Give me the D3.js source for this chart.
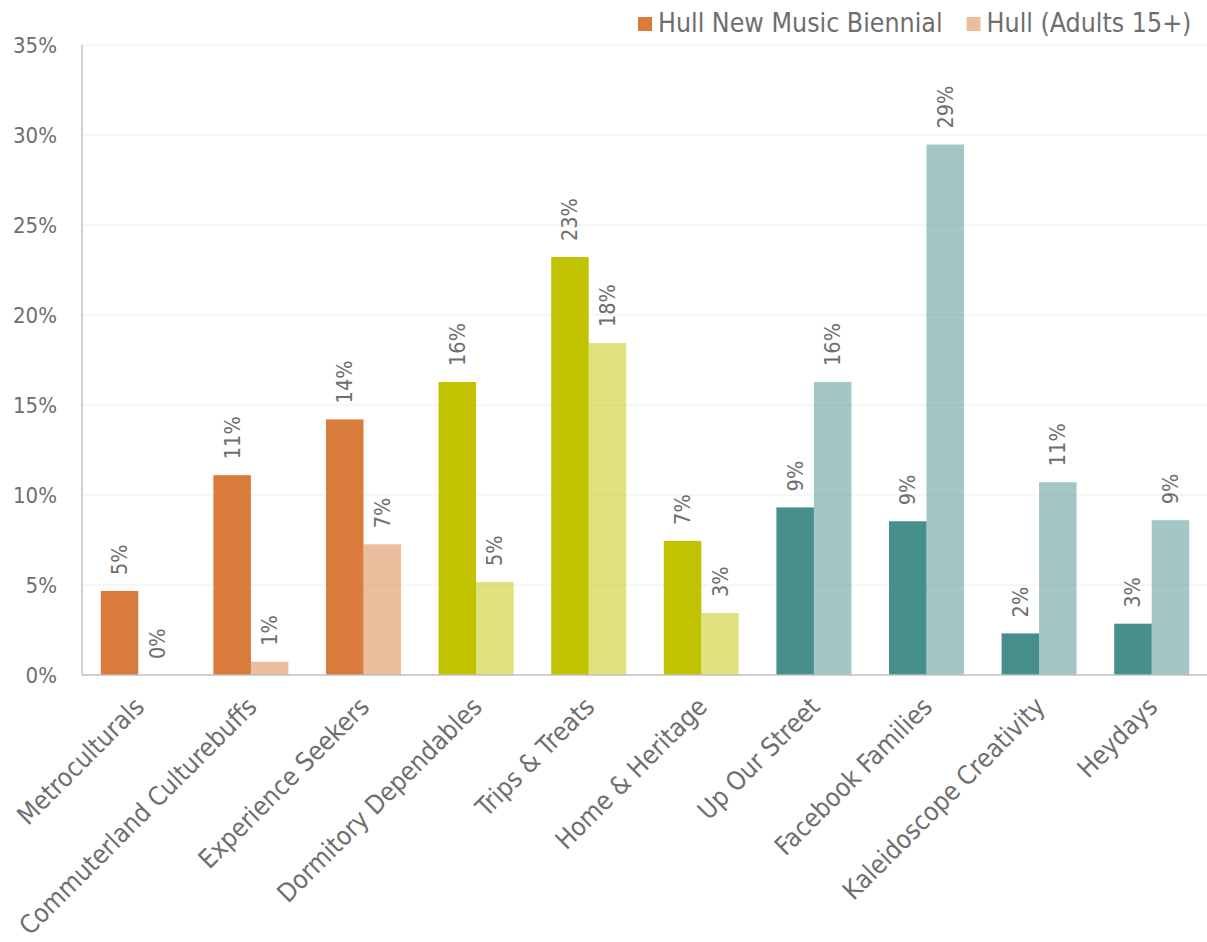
<!DOCTYPE html>
<html>
<head>
<meta charset="utf-8">
<script src="https://cdn.jsdelivr.net/npm/d3@7"></script>
<style>
  html, body { margin: 0; padding: 0; background: #ffffff; }
  svg { display: block; }
  text { font-family: "DejaVu Sans Condensed", "DejaVu Sans", sans-serif; fill: #6E6E6E; }
</style>
</head>
<body>
<script>
// Segment names along the x axis
const categories = [
  "Metroculturals", "Commuterland Culturebuffs", "Experience Seekers",
  "Dormitory Dependables", "Trips & Treats", "Home & Heritage",
  "Up Our Street", "Facebook Families", "Kaleidoscope Creativity", "Heydays"
];
// Share of each population (%) per segment
const biennial = [4.67, 11.1, 14.2, 16.28, 23.22, 7.45, 9.31, 8.54, 2.31, 2.85];
const hullAdults = [0, 0.74, 7.26, 5.17, 18.44, 3.44, 16.28, 29.47, 10.71, 8.6];
const seriesNames = ["Hull New Music Biennial", "Hull (Adults 15+)"];
// Segment family colour (high / medium / low engagement)
const familyColors = ["#D97B3A", "#D97B3A", "#D97B3A", "#C1C300", "#C1C300", "#C1C300",
                      "#468F8A", "#468F8A", "#468F8A", "#468F8A"];
const yTicks = [0, 5, 10, 15, 20, 25, 30, 35];

const W = 1207, H = 942;
const plot = { left: 82, right: 1208, top: 45, bottom: 675 };

const svg = d3.select("body").append("svg").attr("width", W).attr("height", H);

const x0 = d3.scaleBand().domain(categories).range([plot.left, plot.right])
  .paddingInner(0.334).paddingOuter(0.167);
const x1 = d3.scaleBand().domain([0, 1]).range([0, x0.bandwidth()]);
const y = d3.scaleLinear().domain([0, 35]).range([plot.bottom, plot.top]);

// Horizontal gridlines
svg.append("g").selectAll("line").data(yTicks.filter(d => d > 0)).join("line")
  .attr("x1", plot.left).attr("x2", W)
  .attr("y1", d => y(d)).attr("y2", d => y(d))
  .attr("stroke", "#EEEEEE").attr("stroke-width", 1);

// Y axis labels
const yAxis = svg.append("g").attr("transform", `translate(${plot.left},0)`)
  .call(d3.axisLeft(y).tickValues(yTicks).tickFormat(d => d + "%").tickSize(0).tickPadding(25));
yAxis.select(".domain").remove();
yAxis.selectAll("text").attr("font-size", 22).attr("fill", "#6E6E6E")
  .style("font-family", '"DejaVu Sans Condensed", "DejaVu Sans", sans-serif');

// Bars
const rows = categories.map((c, i) => ({ cat: c, color: familyColors[i], vals: [biennial[i], hullAdults[i]] }));
const groups = svg.append("g").selectAll("g").data(rows).join("g")
  .attr("transform", d => `translate(${x0(d.cat)},0)`);

groups.selectAll("rect").data(d => d.vals.map((v, k) => ({ v, k, color: d.color }))).join("rect")
  .attr("x", d => x1(d.k))
  .attr("width", x1.bandwidth())
  .attr("y", d => y(d.v))
  .attr("height", d => y(0) - y(d.v))
  .attr("fill", d => d.color)
  .attr("fill-opacity", d => d.k === 0 ? 1 : 0.5);

// Value labels, rotated above each bar
groups.selectAll("text.val").data(d => d.vals.map((v, k) => ({ v, k }))).join("text")
  .attr("class", "val")
  .attr("transform", d => `translate(${x1(d.k) + x1.bandwidth() / 2},${y(d.v) - 16}) rotate(-90)`)
  .attr("dy", "0.35em")
  .attr("text-anchor", "start")
  .attr("font-size", 21.5)
  .text(d => Math.round(d.v) + "%");

// Axis lines
svg.append("line").attr("x1", plot.left).attr("x2", plot.left).attr("y1", plot.top).attr("y2", plot.bottom)
  .attr("stroke", "#BFBFBF").attr("stroke-width", 1.5);
svg.append("line").attr("x1", plot.left).attr("x2", W).attr("y1", plot.bottom).attr("y2", plot.bottom)
  .attr("stroke", "#BFBFBF").attr("stroke-width", 1.5);

// Category labels
svg.append("g").selectAll("text").data(categories).join("text")
  .attr("transform", d => `translate(${x0(d) + x0.bandwidth() / 2 + 1},702) rotate(-45)`)
  .attr("dy", "0.35em")
  .attr("text-anchor", "end")
  .attr("font-size", 25.8)
  .text(d => d);

// Legend
const legend = svg.append("g");
let lx = 638;
seriesNames.forEach((name, k) => {
  legend.append("rect").attr("x", lx).attr("y", 17).attr("width", 14).attr("height", 14)
    .attr("fill", familyColors[0]).attr("fill-opacity", k === 0 ? 1 : 0.5);
  const t = legend.append("text").attr("x", lx + 20).attr("y", 32)
    .attr("font-size", 26.5).text(name);
  lx += 20 + t.node().getComputedTextLength() + 24;
});
</script>
</body>
</html>
